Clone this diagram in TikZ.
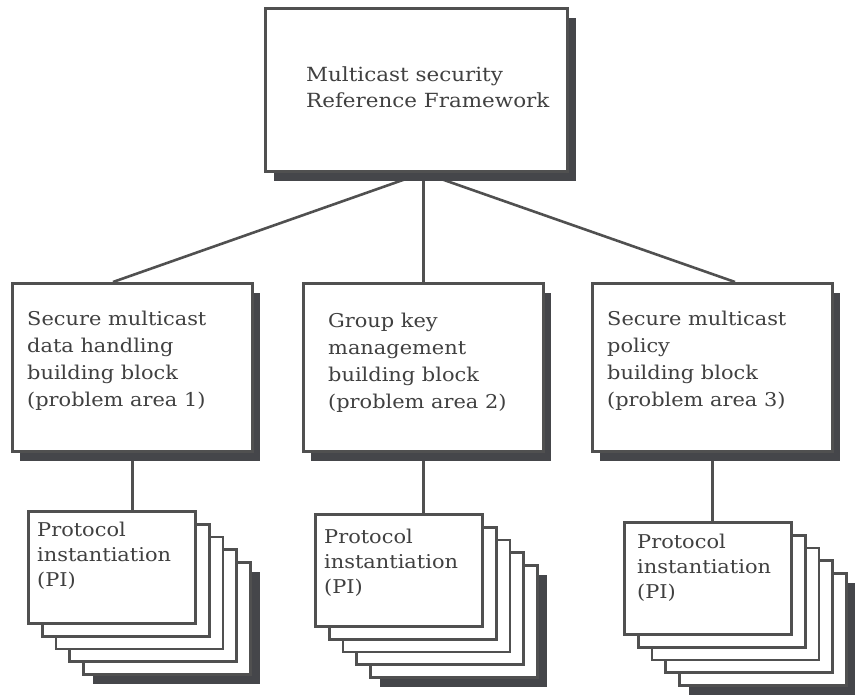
\documentclass[tikz,border=0pt]{standalone}
\usepackage{fontspec}
\setmainfont{DejaVu Serif}[FakeStretch=1.1]
\usetikzlibrary{shadows,backgrounds,calc}

\definecolor{edgegray}{HTML}{505050}
\definecolor{shadowgray}{HTML}{45464A}
\definecolor{inkgray}{HTML}{404040}

\tikzset{
  px/.style={x=1pt,y=-1pt},
  boxshadow/.style={drop shadow={shadow xshift=#1, shadow yshift=-10pt, opacity=1, fill=shadowgray}},
  block/.style={draw=edgegray, line width=2.8pt, fill=white, rectangle, inner sep=0pt,
    anchor=north west, minimum width=#1},
  topblock/.style={block=302pt, minimum height=163pt, boxshadow=9pt},
  midblock/.style={block=240pt, minimum height=168pt, boxshadow=8pt},
  card/.style={block=167pt, minimum height=112pt},
  lastcard/.style={card, boxshadow=10pt},
  % labels are placed by the baseline of their last line
  label/.style={anchor=base west, inner sep=0pt, align=left, text=inkgray},
  toplabel/.style={label, font=\fontsize{19.5}{26}\selectfont},
  midlabel/.style={label, font=\fontsize{19}{27}\selectfont},
  pilabel/.style={label, font=\fontsize{19}{25}\selectfont},
  link/.style={draw=edgegray, line width=2.6pt},
}

\begin{document}
\begin{tikzpicture}[px]
\useasboundingbox (0,0) rectangle (855,698);

% framework box
\node[topblock] (top) at (264,7) {};
\node[toplabel] (top-t) at (306,108) {Multicast security\\Reference Framework};

% building blocks
\node[midblock] (bb1) at (11,282) {};
\node[midblock] (bb2) at (302,282) {};
\node[midblock] (bb3) at (591,282) {};
\node[midlabel] (bb1-t) at (27,406) {Secure multicast\\data handling\\building block\\(problem area 1)};
\node[midlabel] (bb2-t) at (328,408) {Group key\\management\\building block\\(problem area 2)};
\node[midlabel] (bb3-t) at (607,406) {Secure multicast\\policy\\building block\\(problem area 3)};

% stacks of protocol instantiations, back to front
\foreach \s/\x/\y in {1/27/510, 2/314/513, 3/623/521}{
  \node[lastcard] (pi\s-5) at ({\x+55},{\y+51}) {};
  \node[card] (pi\s-4) at ({\x+41.25},{\y+38.25}) {};
  \node[card] (pi\s-3) at ({\x+27.5},{\y+25.5}) {};
  \node[card] (pi\s-2) at ({\x+13.75},{\y+12.75}) {};
  \node[card] (pi\s-1) at (\x,\y) {};
}
\node[pilabel] (pi1-t) at (37,586) {Protocol\\instantiation\\(PI)};
\node[pilabel] (pi2-t) at (324,593) {Protocol\\instantiation\\(PI)};
\node[pilabel] (pi3-t) at (637,598) {Protocol\\instantiation\\(PI)};

% connectors sit behind the boxes and their shadows
\coordinate (hub) at (top.south -| bb2.north);
\begin{scope}[on background layer]
  \draw[link] (hub) -- (bb1.north -| 113,0);
  \draw[link] (hub) -- (bb2.north);
  \draw[link] (hub) -- (bb3.north -| 735,0);
  \draw[link] (bb1.south) -- (bb1.south |- pi1-1.north);
  \draw[link] (bb2.south) -- (bb2.south |- pi2-1.north);
  \draw[link] (bb3.south) -- (bb3.south |- pi3-1.north);
\end{scope}
\end{tikzpicture}
\end{document}
